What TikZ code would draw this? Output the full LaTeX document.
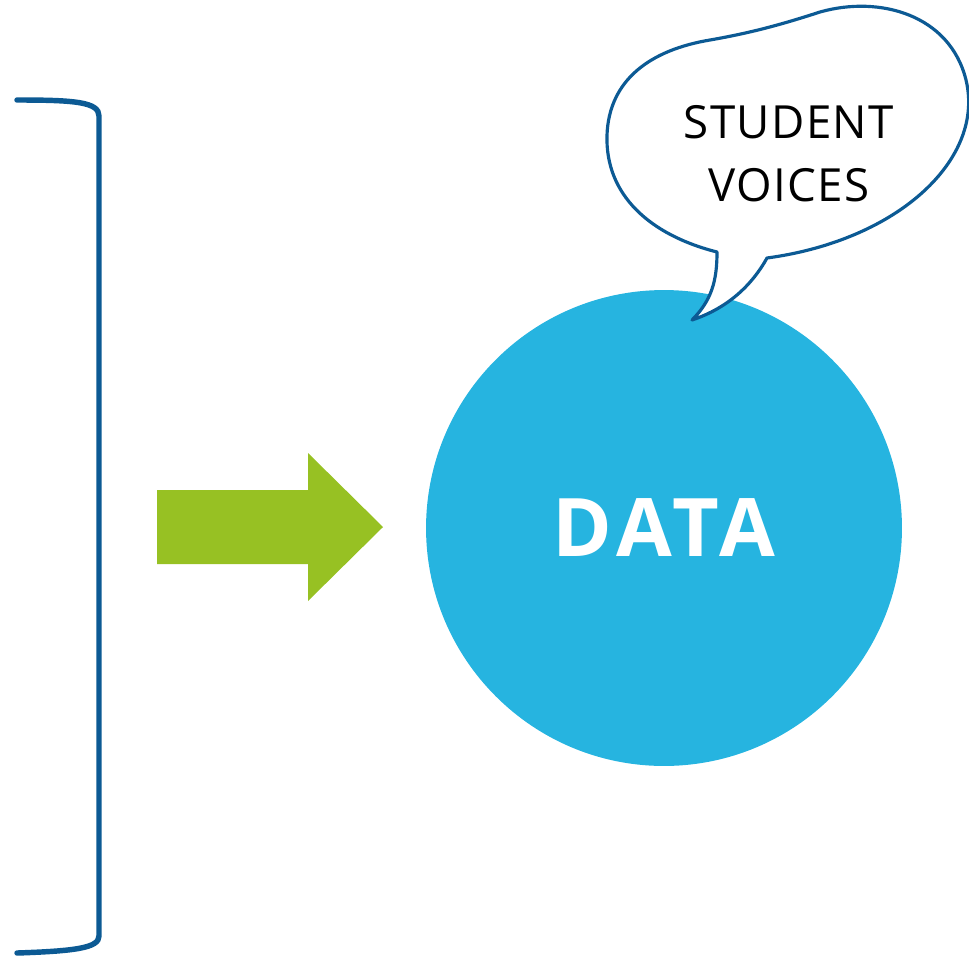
\documentclass[tikz,border=0pt]{standalone}
\usepackage{fontspec}
\setmainfont{Open Sans}
\usepackage{tikz}
\usetikzlibrary{positioning}
\definecolor{darkblue}{RGB}{12,90,148}
\definecolor{datablue}{RGB}{38,180,224}
\definecolor{arrowgreen}{RGB}{151,193,35}

\begin{document}
\begin{tikzpicture}[x=0.02cm,y=-0.02cm,
  outline/.style={darkblue,line width=3.1pt,line cap=round},
  bubble/.style={darkblue,line width=1.8pt,fill=white,line join=round}]
\useasboundingbox (0,0) rectangle (969,957);

% bracket on the left
\draw[outline] (17,100) .. controls (75,100) and (99,102) .. (99,116) -- (99,936)
  .. controls (99,948) and (75,951) .. (17,953);

% green arrow
\fill[arrowgreen] (157,490) -- (308,490) -- (308,453) -- (383,527) -- (308,601)
  -- (308,564) -- (157,564) -- cycle;

% data circle
\node[circle,fill=datablue,minimum size=9.52cm,inner sep=0pt,text=white,
  font=\bfseries\fontsize{46}{46}\selectfont\addfontfeature{LetterSpace=7}] (data)
  at (664,528) {DATA};

% speech bubble
\draw[bubble] (717,252) .. controls (650,235) and (605,195) .. (607,135)
  .. controls (609,80) and (650,50) .. (710,40)
  .. controls (750,33) and (780,25) .. (820,12)
  .. controls (880,-5) and (950,15) .. (966,80)
  .. controls (985,158) and (900,240) .. (767,258)
  .. controls (752,285) and (728,308) .. (692,320)
  .. controls (712,300) and (717,280) .. (717,252) -- cycle;
\node[align=center,font=\fontsize{26}{36}\selectfont\addfontfeature{LetterSpace=3}]
  (voices) at (789,154) {STUDENT\\VOICES};

\end{tikzpicture}
\end{document}
